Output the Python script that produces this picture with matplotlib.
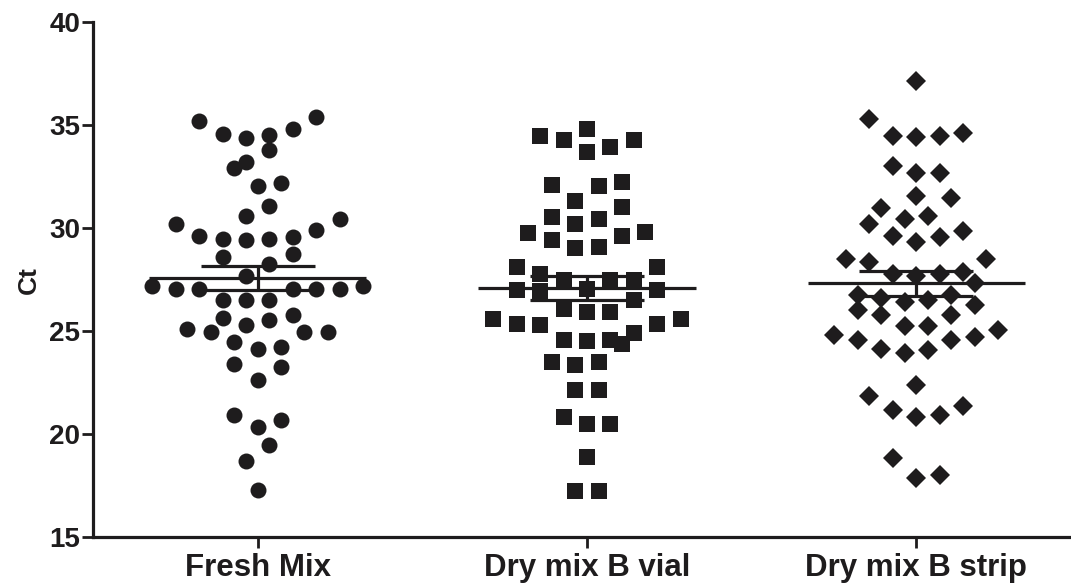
import numpy as np
import matplotlib
matplotlib.use('Agg')
import matplotlib.pyplot as plt

plt.rcParams['font.family'] = ['Liberation Sans', 'DejaVu Sans']
plt.rcParams['font.weight'] = 'bold'

groups = ['Fresh Mix', 'Dry mix B vial', 'Dry mix B strip']
markers = ['o', 's', 'D']

fresh = [35.19, 35.40, 34.56, 34.35, 34.51, 34.81, 33.79, 32.94, 33.19, 32.04,
         32.20, 31.08, 30.60, 30.19, 30.47, 29.63, 29.93, 29.50, 29.42, 29.47,
         29.58, 28.74, 28.61, 28.28, 27.68, 27.04, 27.04, 27.04, 27.04, 27.04,
         27.20, 27.20, 26.52, 26.52, 26.52, 25.78, 25.53, 25.29, 25.63, 25.13,
         24.97, 24.97, 24.97, 24.48, 24.13, 24.24, 23.27, 23.43, 22.65, 20.92,
         20.71, 20.35, 19.47, 18.69, 17.28]
vial = [34.81, 34.30, 33.92, 33.70, 34.30, 34.47, 32.25, 32.04, 32.09, 31.31,
        31.04, 30.19, 30.55, 30.47, 29.79, 29.45, 29.06, 29.09, 29.61, 29.82,
        28.12, 28.12, 27.77, 27.48, 27.48, 27.48, 26.99, 26.99, 26.97, 27.05,
        26.50, 26.10, 25.94, 25.94, 25.62, 25.37, 25.29, 25.37, 25.62, 24.92,
        24.56, 24.53, 24.60, 24.40, 23.51, 23.35, 23.51, 22.17, 22.17, 20.84,
        20.49, 20.52, 18.90, 17.25, 17.25]
strip = [37.14, 35.28, 34.47, 34.43, 34.47, 34.63, 32.69, 32.69, 33.01, 31.47,
         31.55, 31.00, 30.60, 30.44, 30.19, 29.87, 29.58, 29.31, 29.63, 28.53,
         28.37, 28.50, 27.80, 27.67, 27.77, 27.88, 27.32, 26.75, 26.50, 26.42,
         26.63, 26.75, 26.26, 26.02, 25.78, 25.78, 25.24, 25.24, 25.05, 24.72,
         24.56, 24.56, 24.81, 24.11, 23.97, 24.13, 22.38, 21.86, 21.36, 20.92,
         20.84, 21.20, 18.85, 17.88, 18.04]
data = [fresh, vial, strip]

yticks = [15, 20, 25, 30, 35, 40]

ink = '#1e1c1d'

fig = plt.figure(figsize=(10.71, 5.85), dpi=100)
ax = fig.add_axes([0.0868, 0.0812, 0.9132, 0.8812])
ax.set_xlim(-0.5, 2.47)
ax.set_ylim(15, 40)

# horizontal slot (half a marker spacing) in data units, from the axes transform
px_x = ax.transData.transform((1, 0))[0] - ax.transData.transform((0, 0))[0]
step = 11.7 / px_x
row_h = 1.1


def scatter_offsets(vals):
    # prism-like layout: rows of similar values, spread out from the centre
    order = np.argsort(vals, kind='stable')
    offs = np.zeros(len(vals))
    rows = []
    for i in order:
        if rows and vals[i] - vals[rows[-1][0]] <= row_h:
            rows[-1].append(i)
        else:
            rows.append([i])
    for row in rows:
        n = len(row)
        if n % 2:
            slots = [0] + [s * k for k in range(2, n + 1, 2) for s in (1, -1)]
        else:
            slots = [s * k for k in range(1, n + 1, 2) for s in (-1, 1)]
        for j, i in enumerate(row):
            offs[i] = slots[j] * step
    return offs


sizes = {'o': 11.5, 's': 11.5, 'D': 9.8}
for i, vals in enumerate(data):
    vals = np.array(vals)
    xo = scatter_offsets(vals)
    ax.plot(i + xo, vals, linestyle='none', marker=markers[i],
            markersize=sizes[markers[i]], color=ink, markeredgewidth=0, zorder=2)
    m = vals.mean()
    sem = vals.std(ddof=1) / np.sqrt(len(vals))
    ax.hlines(m, i - 0.33, i + 0.33, color=ink, linewidth=2.3, zorder=3)
    ax.hlines([m - sem, m + sem], i - 0.173, i + 0.173, color=ink, linewidth=2.3, zorder=3)
    ax.vlines(i, m - sem, m + sem, color=ink, linewidth=2.3, zorder=3)

ax.spines['top'].set_visible(False)
ax.spines['right'].set_visible(False)
for s in ['left', 'bottom']:
    ax.spines[s].set_linewidth(2.3)
    ax.spines[s].set_color(ink)

ax.set_yticks(yticks)
ax.set_yticklabels([str(t) for t in yticks], fontsize=20, fontweight='bold')
ax.set_xticks(range(len(groups)))
ax.set_xticklabels(groups, fontsize=22.5, fontweight='bold')
ax.tick_params(axis='y', length=8, width=2, color=ink, labelcolor=ink, pad=1)
ax.tick_params(axis='x', length=8, width=2, color=ink, labelcolor=ink, pad=3)
ax.set_ylabel('Ct', fontsize=19, fontweight='bold', color=ink, labelpad=6)

fig.savefig('out.png', dpi=100)
